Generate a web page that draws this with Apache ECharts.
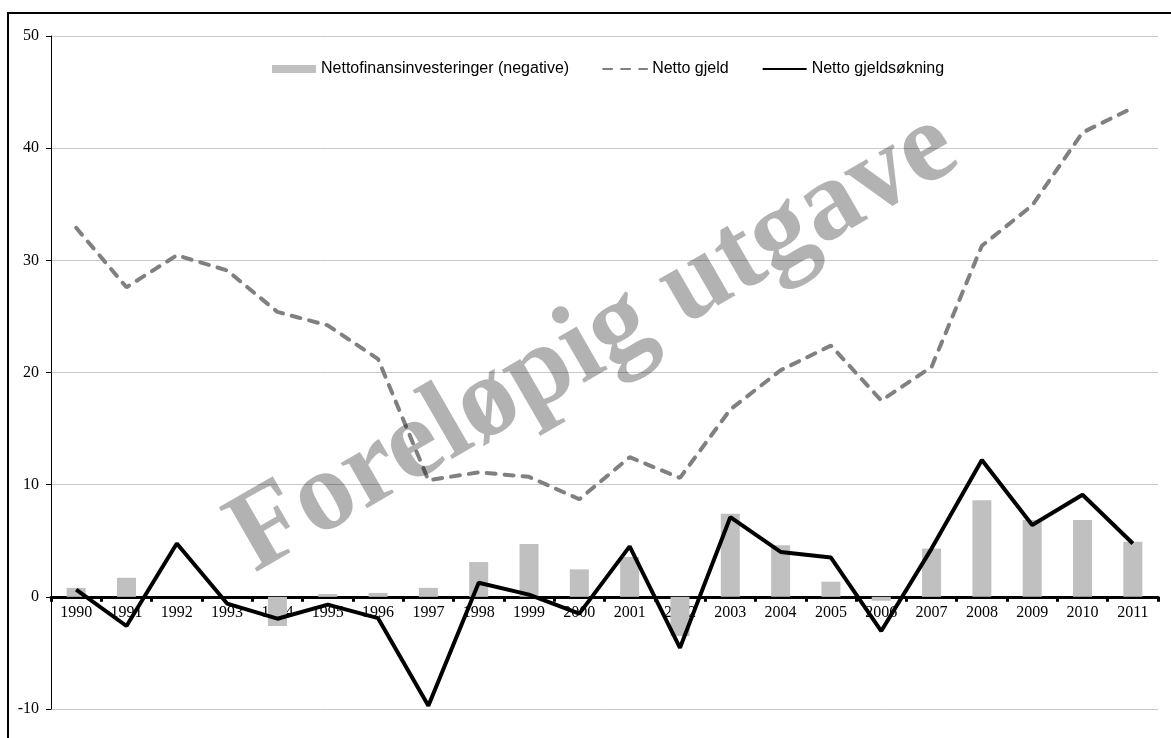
<!DOCTYPE html>
<html>
<head>
<meta charset="utf-8">
<script src="https://cdn.jsdelivr.net/npm/echarts@6/dist/echarts.min.js"></script>
<style>
  html, body { margin: 0; padding: 0; background: #fff; }
  #main { width: 1171px; height: 738px; }
</style>
</head>
<body>
<div id="main"></div>
<script>
var years = ['1990','1991','1992','1993','1994','1995','1996','1997','1998','1999','2000',
             '2001','2002','2003','2004','2005','2006','2007','2008','2009','2010','2011'];
// Nettofinansinvesteringer (negative)
var nettofin = [0.8, 1.7, 0, 0, -2.6, 0.25, 0.35, 0.8, 3.1, 4.7, 2.45,
                3.55, -3.5, 7.4, 4.6, 1.35, -0.35, 4.3, 8.6, 6.85, 6.85, 4.9];
// Netto gjeld
var nettoGjeld = [32.9, 27.6, 30.45, 29.1, 25.4, 24.2, 21.2, 10.4, 11.1, 10.7, 8.7,
                  12.45, 10.6, 16.7, 20.2, 22.4, 17.5, 20.5, 31.3, 34.9, 41.4, 43.6];
// Netto gjeldsøkning
var gjeldsokning = [0.65, -2.6, 4.75, -0.6, -1.95, -0.7, -1.9, -9.7, 1.25, 0.2, -1.5,
                    4.5, -4.55, 7.1, 4.0, 3.5, -3.05, 4.3, 12.2, 6.4, 9.1, 4.75];

var yMin = -10, yMax = 50;
var gridTop = 36, gridBottom = 29, chartH = 738;
// move the category axis up to the zero line
var plotH = chartH - gridTop - gridBottom;
var zeroOffset = -plotH * (0 - yMin) / (yMax - yMin);

var chart = echarts.init(document.getElementById('main'));
chart.setOption({
  animation: false,
  grid: { left: 51, right: 13, top: gridTop, bottom: gridBottom },
  legend: {
    left: 267, top: 56,
    itemGap: 33, itemWidth: 44, itemHeight: 8,
    textStyle: { fontFamily: 'Liberation Sans', fontSize: 16, color: '#000' },
    data: [
      { name: 'Nettofinansinvesteringer (negative)', icon: 'rect' },
      { name: 'Netto gjeld', itemStyle: { opacity: 0 } },
      { name: 'Netto gjeldsøkning', itemStyle: { opacity: 0 } }
    ]
  },
  xAxis: {
    type: 'category',
    data: years,
    position: 'bottom',
    offset: zeroOffset,
    axisLine: { onZero: false, lineStyle: { color: '#000', width: 3 } },
    axisTick: { show: true, length: 5, lineStyle: { color: '#000', width: 3 } },
    axisLabel: { fontFamily: 'Liberation Serif', fontSize: 16, color: '#000', margin: 8 },
    splitLine: { show: false }
  },
  yAxis: {
    type: 'value',
    min: yMin, max: yMax, interval: 10,
    axisLine: { show: true, lineStyle: { color: '#000', width: 1 } },
    axisTick: { show: true, length: 5, lineStyle: { color: '#000' } },
    axisLabel: { fontFamily: 'Liberation Serif', fontSize: 16, color: '#000', margin: 12 },
    splitLine: { lineStyle: { color: '#c8c8c8', width: 1 } }
  },
  series: [
    {
      name: 'Nettofinansinvesteringer (negative)',
      type: 'bar',
      data: nettofin,
      barWidth: 19,
      itemStyle: { color: '#c0c0c0' }
    },
    {
      name: 'Netto gjeld',
      type: 'line',
      data: nettoGjeld,
      symbol: 'none',
      itemStyle: { color: '#808080' },
      lineStyle: { color: '#808080', width: 4, type: [9, 9], cap: 'round' }
    },
    {
      name: 'Netto gjeldsøkning',
      type: 'line',
      data: gjeldsokning,
      symbol: 'none',
      itemStyle: { color: '#000' },
      lineStyle: { color: '#000', width: 4 }
    }
  ],
  graphic: [
    {
      type: 'rect', z: 100, silent: true,
      shape: { x: 8, y: 13, width: 1200, height: 800 },
      style: { fill: 'none', stroke: '#000', lineWidth: 2 }
    },
    {
      type: 'text', z: 100, silent: true,
      x: 594, y: 343, rotation: Math.PI / 6,
      style: {
        text: 'Foreløpig utgave',
        font: 'bold 114px "Liberation Serif"',
        fill: 'rgba(0,0,0,0.3)',
        align: 'center', verticalAlign: 'middle'
      }
    }
  ]
});
</script>
</body>
</html>
